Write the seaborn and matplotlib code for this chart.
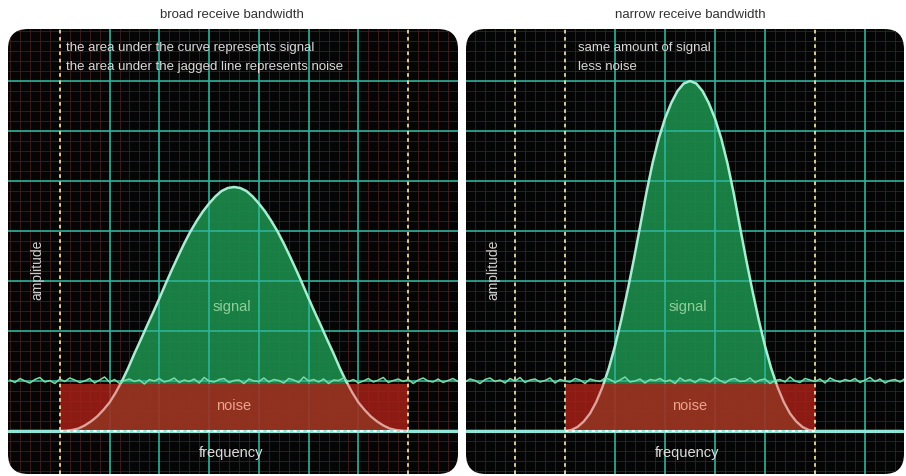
import numpy as np
import matplotlib.pyplot as plt
from matplotlib.patches import FancyBboxPatch, Rectangle
import seaborn as sns

sns.set_style("white")
plt.rcParams['font.family'] = ['Liberation Sans', 'DejaVu Sans']

# values, in grid units (one major grid square = 1)
titles = ["broad receive bandwidth", "narrow receive bandwidth"]
notes = [["the area under the curve represents signal",
          "the area under the jagged line represents noise"],
         ["same amount of signal", "less noise"]]

# curve heights from the peak outwards, every 1/8 of a grid square
half_broad = [4.88, 4.86, 4.80, 4.69, 4.55, 4.39, 4.20, 3.99, 3.75, 3.49,
              3.22, 2.94, 2.65, 2.37, 2.10, 1.82, 1.55, 1.26, 1.00, 0.77,
              0.57, 0.42, 0.29, 0.19, 0.11, 0.05, 0.02, 0.005, 0.0]
half_narrow = [7.00, 6.95, 6.80, 6.56, 6.25, 5.85, 5.35, 4.75, 4.08, 3.42,
               2.80, 2.22, 1.70, 1.25, 0.88, 0.58, 0.35, 0.19, 0.08, 0.02, 0.0]

freq_broad = np.linspace(-1, 8, 73)
signal_broad = [0.0] * 8 + half_broad[::-1] + half_broad[1:] + [0.0] * 8
freq_narrow = np.linspace(-1, 7.75, 71)
signal_narrow = [0.0] * 16 + half_narrow[::-1] + half_narrow[1:] + [0.0] * 14

noise_level = 1.0
noise_broad = [0.02, -0.03, 0.05, 0.00, -0.04, 0.03, 0.07, -0.02, 0.01, -0.05,
               0.04, -0.01, 0.06, 0.02, -0.03, 0.00, 0.05, -0.04, 0.02, 0.08,
               -0.02, 0.03, -0.05, 0.01, 0.04, -0.01, 0.02, -0.06, 0.03, 0.00,
               0.05, -0.02, 0.01, 0.06, -0.03, 0.02, -0.01, 0.04, -0.04, 0.07,
               0.00, -0.02, 0.03, 0.05, -0.03, 0.01, 0.02, -0.05, 0.04, 0.00,
               -0.01, 0.06, -0.02, 0.03, 0.01, -0.04, 0.05, 0.02, -0.03, 0.08,
               0.00, 0.03, -0.02, 0.04, -0.05, 0.02, 0.01, 0.06, -0.01, 0.03,
               -0.04, 0.00, 0.05, -0.02, 0.02, 0.07, -0.03, 0.01, 0.04, -0.01,
               0.03, -0.05, 0.02, 0.06, 0.00, -0.02, 0.04, -0.03, 0.01, 0.05, -0.01]
noise_narrow = [-0.02, 0.04, 0.01, -0.05, 0.03, 0.06, -0.01, 0.02, -0.04, 0.05,
                0.00, 0.07, -0.03, 0.02, 0.04, -0.02, 0.01, 0.06, -0.04, 0.03,
                0.00, -0.02, 0.05, 0.02, -0.05, 0.04, 0.01, -0.01, 0.06, 0.03,
                -0.03, 0.02, 0.08, -0.02, 0.00, 0.04, -0.04, 0.03, 0.01, 0.05,
                -0.01, 0.02, -0.05, 0.06, 0.00, 0.03, -0.03, 0.04, 0.02, -0.02,
                0.07, 0.01, -0.04, 0.03, 0.05, -0.01, 0.00, 0.06, -0.03, 0.02,
                0.04, -0.05, 0.01, 0.03, -0.02, 0.08, 0.00, -0.03, 0.05, 0.02,
                -0.01, 0.04, -0.04, 0.06, 0.01, -0.02, 0.03, 0.00, 0.05, -0.03,
                0.02, 0.07, -0.01, 0.04, -0.04, 0.01, 0.03, -0.02, 0.05]
noise_x_broad = np.linspace(-1, 8, 91)
noise_x_narrow = np.linspace(-1, 7.8, 89)

bands = [(0, 7), (1, 6)]
dotted_lines = [[0, 7], [0, 1, 6]]
solid_lines = [[1, 2, 3, 4, 5, 6], [2, 3, 4, 5, 7]]

fig = plt.figure(figsize=(9.06, 4.77), dpi=100)
fig.patch.set_facecolor('white')

W, H = 906, 477
panels = [
    dict(px=(8, 458), xlim=(-1.04, 8.0), freq=freq_broad, sig=signal_broad,
         nx=noise_x_broad, ny=noise_broad, note_x=0.12, title_x=232),
    dict(px=(466, 904), xlim=(-0.98, 7.78), freq=freq_narrow, sig=signal_narrow,
         nx=noise_x_narrow, ny=noise_narrow, note_x=1.26, title_x=690),
]

for i, p in enumerate(panels):
    x0, x1 = p['px']
    ax = fig.add_axes([x0 / W, 2 / H, (x1 - x0) / W, 445 / H])
    ax.set_xlim(*p['xlim'])
    ax.set_ylim(-0.86, 8.04)
    ax.axis('off')

    bg = FancyBboxPatch((0, 0), 1, 1, boxstyle="round,pad=0,rounding_size=0.045",
                        transform=ax.transAxes, fc='#050505', ec='none', zorder=0)
    ax.add_patch(bg)

    # minor grid
    for v in np.arange(-1, 8.01, 0.2):
        ax.axvline(v, color='#4a1e1e', lw=0.7, alpha=0.8, zorder=1)
    for v in np.arange(-1, 8.01, 0.2):
        ax.axhline(v, color='#4a1e1e', lw=0.7, alpha=0.8, zorder=1)

    # signal fill, minor grid only faintly through it
    ax.fill_between(p['freq'], 0, p['sig'], color='#1c8c4b', lw=0, alpha=0.9, zorder=1.5)

    # major grid
    for v in solid_lines[i]:
        ax.axvline(v, color='#2fb39a', lw=1.3, alpha=0.9, zorder=2)
    for v in range(1, 8):
        ax.axhline(v, color='#2fb39a', lw=1.3, alpha=0.9, zorder=2)

    # signal curve
    sns.lineplot(x=p['freq'], y=p['sig'], ax=ax, color='#a6eed2', lw=1.8, zorder=2.5)

    # noise box
    b0, b1 = bands[i]
    box = Rectangle((b0, 0), b1 - b0, 0.95, fc='#ab2018', ec='none', alpha=0.82, zorder=3)
    ax.add_patch(box)

    # bandwidth edges and baseline
    for v in dotted_lines[i]:
        ax.axvline(v, color='#e6dca6', lw=1.3, ls=(0, (2, 2)), zorder=4)
    ax.axhline(0, color='#8fe6d6', lw=2.2, zorder=4)
    ax.plot([b0, b1], [0, 0], color='white', lw=1.2, ls=(0, (2, 2)), zorder=4.5)

    # jagged noise line
    sns.lineplot(x=p['nx'], y=np.array(p['ny']) + noise_level, ax=ax,
                 color='#7ed9a5', lw=1.1, zorder=5)

    for art in ax.lines + ax.collections + ax.patches:
        if art is not bg:
            art.set_clip_path(bg)

    # curve tails seen through the noise box
    tail = sns.lineplot(x=p['freq'], y=p['sig'], ax=ax, color='#f2c4bc', lw=1.6,
                        alpha=0.75, zorder=4).lines[-1]
    tail.set_clip_path(box)

    mid = (b0 + b1) / 2
    ax.text(p['note_x'], 7.68, notes[i][0], color='#d8d8d8', fontsize=9.5, va='center', zorder=6)
    ax.text(p['note_x'], 7.30, notes[i][1], color='#d8d8d8', fontsize=9.5, va='center', zorder=6)
    ax.text(-0.44, 3.24, "amplitude", color='#cfcfcf', fontsize=10, rotation=90,
            ha='center', va='center', zorder=6)
    ax.text(mid - 0.04, 2.5, "signal", color='#8fcf9c', fontsize=10.5,
            ha='center', va='center', zorder=6)
    ax.text(mid, 0.52, "noise", color='#eba58e', fontsize=10.5,
            ha='center', va='center', zorder=6)
    ax.text(mid - 0.06, -0.42, "frequency", color='#dcdcdc', fontsize=10.5,
            ha='center', va='center', zorder=6)

    fig.text(p['title_x'] / W, 1 - 15 / H, titles[i], color='#333333', fontsize=9.5,
             ha='center', va='center')

plt.savefig("out.png", dpi=100)
